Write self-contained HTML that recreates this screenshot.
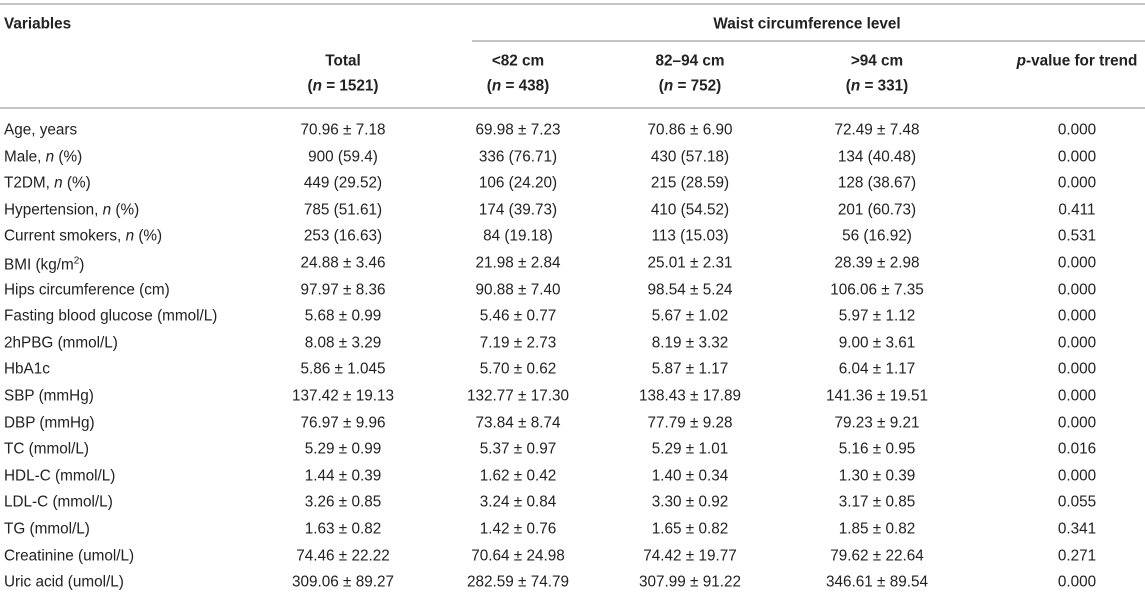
<!DOCTYPE html>
<html><head><meta charset="utf-8"><style>
body{margin:0;background:#fff;width:1145px;height:592px;position:relative;overflow:hidden;font-family:"Liberation Sans",sans-serif;color:#222;font-size:15.3px}
.l{position:absolute;height:2px;background:#c4c4c4}
.t{position:absolute;white-space:nowrap;line-height:17px;transform:translateY(-50%)}
.c{transform:translate(-50%,-50%)}
.b{font-weight:bold}
</style></head><body>
<div class="l" style="left:0;right:0;top:3px"></div>
<div class="l" style="left:472px;right:0;top:40px"></div>
<div class="l" style="left:0;right:0;top:107px"></div>
<div class="t b" style="left:4px;top:24px">Variables</div>
<div class="t b c" style="left:807px;top:24px">Waist circumference level</div>
<div id="hdr"></div>
<div id="rows"></div>
<script>
const colX=[343,518,690,877,1077];
const heads=["Total","&lt;82 cm","82–94 cm","&gt;94 cm","<i>p</i>-value for trend"];
const subs=["(<i>n</i> = 1521)","(<i>n</i> = 438)","(<i>n</i> = 752)","(<i>n</i> = 331)",""];
const labels=["Age, years","Male, <i>n</i> (%)","T2DM, <i>n</i> (%)","Hypertension, <i>n</i> (%)","Current smokers, <i>n</i> (%)","BMI (kg/m<sup style='font-size:10px'>2</sup>)","Hips circumference (cm)","Fasting blood glucose (mmol/L)","2hPBG (mmol/L)","HbA1c","SBP (mmHg)","DBP (mmHg)","TC (mmol/L)","HDL-C (mmol/L)","LDL-C (mmol/L)","TG (mmol/L)","Creatinine (umol/L)","Uric acid (umol/L)"];
const totalCol=["70.96 ± 7.18","900 (59.4)","449 (29.52)","785 (51.61)","253 (16.63)","24.88 ± 3.46","97.97 ± 8.36","5.68 ± 0.99","8.08 ± 3.29","5.86 ± 1.045","137.42 ± 19.13","76.97 ± 9.96","5.29 ± 0.99","1.44 ± 0.39","3.26 ± 0.85","1.63 ± 0.82","74.46 ± 22.22","309.06 ± 89.27"];
const lowCol=["69.98 ± 7.23","336 (76.71)","106 (24.20)","174 (39.73)","84 (19.18)","21.98 ± 2.84","90.88 ± 7.40","5.46 ± 0.77","7.19 ± 2.73","5.70 ± 0.62","132.77 ± 17.30","73.84 ± 8.74","5.37 ± 0.97","1.62 ± 0.42","3.24 ± 0.84","1.42 ± 0.76","70.64 ± 24.98","282.59 ± 74.79"];
const midCol=["70.86 ± 6.90","430 (57.18)","215 (28.59)","410 (54.52)","113 (15.03)","25.01 ± 2.31","98.54 ± 5.24","5.67 ± 1.02","8.19 ± 3.32","5.87 ± 1.17","138.43 ± 17.89","77.79 ± 9.28","5.29 ± 1.01","1.40 ± 0.34","3.30 ± 0.92","1.65 ± 0.82","74.42 ± 19.77","307.99 ± 91.22"];
const highCol=["72.49 ± 7.48","134 (40.48)","128 (38.67)","201 (60.73)","56 (16.92)","28.39 ± 2.98","106.06 ± 7.35","5.97 ± 1.12","9.00 ± 3.61","6.04 ± 1.17","141.36 ± 19.51","79.23 ± 9.21","5.16 ± 0.95","1.30 ± 0.39","3.17 ± 0.85","1.85 ± 0.82","79.62 ± 22.64","346.61 ± 89.54"];
const pCol=["0.000","0.000","0.000","0.411","0.531","0.000","0.000","0.000","0.000","0.000","0.000","0.000","0.016","0.000","0.055","0.341","0.271","0.000"];
function mk(parent,html,x,y,cls,name){
  const d=document.createElement('div');
  d.className='t '+cls;d.innerHTML=html;d.style.left=x+'px';d.style.top=y+'px';
  
  
  parent.appendChild(d);
}
const H=document.getElementById('hdr'),R=document.getElementById('rows');
heads.forEach((h,i)=>{mk(H,h,colX[i],61,'b c','column-header');if(subs[i])mk(H,subs[i],colX[i],86,'b c','column-n');});
const cols=[totalCol,lowCol,midCol,highCol,pCol];
labels.forEach((lb,r)=>{
  const y=130+r*26.6;
  mk(R,lb,4,y,'','row-label');
  cols.forEach((c,i)=>mk(R,c[r],colX[i],y,'c','cell-value'));
});
</script>
</body></html>
